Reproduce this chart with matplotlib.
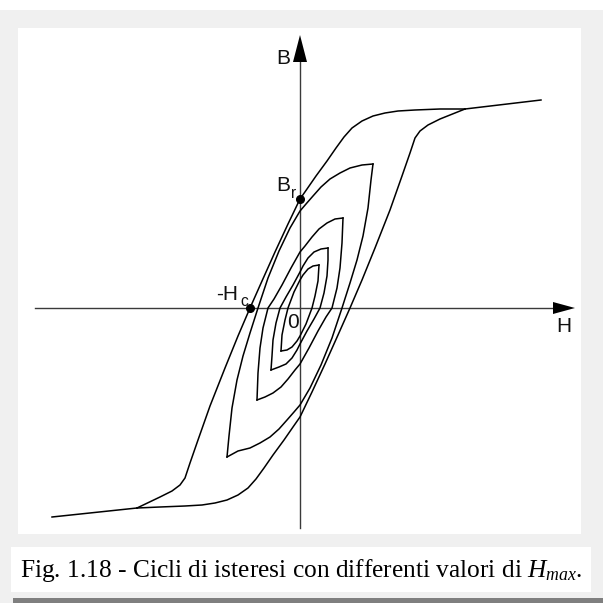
import matplotlib
matplotlib.use("Agg")
import matplotlib.pyplot as plt
from matplotlib.patches import Rectangle, Polygon

# ---- hysteresis loops (H, B), descending branch then ascending branch ----
loop1_down_H = [165, 140, 115, 98, 85, 73, 62, 52, 44, 36, 27, 16, 7, 0, -12, -25, -38, -50,
                -62, -75, -90, -102, -110, -115, -120, -128, -140, -163]
loop1_down_B = [199, 199, 198, 197, 195, 192, 187, 180, 171, 160, 147, 132, 119, 109, 84, 56, 27, 0,
                -28, -60, -98, -132, -155, -170, -177, -183, -189, -200]
loop1_up_H = [-163, -140, -115, -98, -85, -73, -62, -52, -44, -36, -27, -16, -7, 0, 12, 25, 38, 50,
              62, 75, 90, 102, 110, 115, 120, 128, 140, 165]
loop1_up_B = [-200, -199, -198, -197, -195, -192, -187, -180, -171, -160, -147, -132, -119, -109, -84, -56, -27, 0,
              28, 60, 98, 132, 155, 170, 177, 183, 189, 199]

tail_top_H = [165, 241]
tail_top_B = [199, 208]
tail_bot_H = [-163, -248]
tail_bot_B = [-200, -209]

loop2_down_H = [73, 62, 50, 40, 30, 21, 13, 6, 0, -10, -21, -32, -42, -50, -57, -63, -68, -71, -73]
loop2_down_B = [144, 143, 140, 135, 129, 121, 112, 104, 97, 80, 57, 30, 0, -25, -48, -72, -100, -128, -149]
loop2_up_H = [-73, -62, -50, -40, -30, -21, -13, -6, 0, 10, 21, 32, 42, 50, 57, 63, 68, 71, 73]
loop2_up_B = [-149, -143, -140, -135, -129, -121, -112, -104, -97, -80, -57, -30, 0, 25, 48, 72, 100, 128, 144]

loop3_down_H = [43, 35, 27, 19, 12, 5, 0, -9, -18, -26, -32, -37, -40, -42, -43]
loop3_down_B = [90, 89, 85, 79, 71, 62, 56, 40, 23, 9, 0, -20, -40, -65, -92]
loop3_up_H = [-43, -35, -27, -19, -12, -5, 0, 9, 18, 26, 32, 37, 40, 42, 43]
loop3_up_B = [-92, -89, -85, -79, -71, -62, -56, -40, -23, -9, 0, 20, 40, 65, 90]

loop4_down_H = [28, 21, 14, 8, 3, 0, -7, -14, -20, -24, -27, -28, -29]
loop4_down_B = [60, 59, 56, 50, 42, 36, 23, 11, 0, -15, -32, -48, -62]
loop4_up_H = [-29, -21, -14, -8, -3, 0, 7, 14, 20, 24, 27, 28, 28]
loop4_up_B = [-62, -59, -56, -50, -42, -36, -23, -11, 0, 15, 32, 48, 60]

loop5_down_H = [19, 13, 8, 3, 0, -6, -12, -15, -18, -19]
loop5_down_B = [43, 42, 39, 33, 28, 16, 0, -12, -27, -43]
loop5_up_H = [-19, -13, -8, -3, 0, 6, 12, 15, 18, 19]
loop5_up_B = [-43, -42, -39, -33, -28, -16, 0, 12, 27, 43]

# marked points: remanence and coercive field of the largest loop
Br_point = (0, 109)
Hc_point = (-50, 0)

caption = "Fig. 1.18 - Cicli di isteresi con differenti valori di "

# ---- figure ----
W = H_PX = 603
fig = plt.figure(figsize=(W / 100, H_PX / 100), dpi=100)
fig.patch.set_facecolor("white")

def fx(px):
    return px / W

def fy(py):
    return 1 - py / H_PX

# page background, drawing panel, caption box and bottom rule
for rect in [
    Rectangle((0, 0), 1, fy(10), facecolor="#f0f0f0"),
    Rectangle((fx(18), fy(534)), fx(581 - 18), (534 - 28) / H_PX, facecolor="white"),
    Rectangle((fx(11), fy(592)), fx(591 - 11), (592 - 547) / H_PX, facecolor="white"),
    Rectangle((fx(13), 0), 1 - fx(13), 5 / H_PX, facecolor="#7f7f7f"),
]:
    rect.set_transform(fig.transFigure)
    rect.set_edgecolor("none")
    rect.set_zorder(-10)
    fig.patches.append(rect)

ax = fig.add_axes([0, 0, 1, 1])
ax.set_zorder(5)
ax.set_xlim(-300, 303)
ax.set_ylim(-295, 308)
ax.set_axis_off()
ax.patch.set_alpha(0)

axis_col = "#3a3a3a"
# axes of the B-H plane with arrow heads
ax.plot([-265, 255], [0, 0], color=axis_col, lw=1.0, zorder=2)
ax.plot([0, 0], [-220, 250], color=axis_col, lw=1.0, zorder=2)
ax.add_patch(Polygon([[275, 0], [253, 6], [253, -6]], closed=True,
                     facecolor="black", edgecolor="none", zorder=3))
ax.add_patch(Polygon([[0, 273], [-7, 246], [7, 246]], closed=True,
                     facecolor="black", edgecolor="none", zorder=3))

curve_kw = dict(color="black", lw=1.1, zorder=4, solid_joinstyle="round")
branches = [
    (loop1_down_H, loop1_down_B), (loop1_up_H, loop1_up_B),
    (tail_top_H, tail_top_B), (tail_bot_H, tail_bot_B),
    (loop2_down_H, loop2_down_B), (loop2_up_H, loop2_up_B),
    (loop3_down_H, loop3_down_B), (loop3_up_H, loop3_up_B),
    (loop4_down_H, loop4_down_B), (loop4_up_H, loop4_up_B),
    (loop5_down_H, loop5_down_B), (loop5_up_H, loop5_up_B),
]
for hs, bs in branches:
    ax.plot(hs, bs, **curve_kw)

ax.plot(*Br_point, "o", color="black", ms=5.5, zorder=5)
ax.plot(*Hc_point, "o", color="black", ms=5.5, zorder=5)

sans = "Liberation Sans"
fs = 15
ax.text(-17, 249, "B", fontsize=fs, family=sans, ha="center", va="center", color="#111111")
ax.text(264, -19, "H", fontsize=fs, family=sans, ha="center", va="center", color="#111111")
ax.text(-16.5, 122.5, "B", fontsize=fs, family=sans, ha="center", va="center", color="#111111")
ax.text(-6, 114, "r", fontsize=fs * 0.75, family=sans, ha="center", va="center", color="#111111")
ax.text(-73, 13.5, "-H", fontsize=fs, family=sans, ha="center", va="center", color="#111111")
ax.text(-55.5, 6.5, "c", fontsize=fs * 0.75, family=sans, ha="center", va="center", color="#111111")
ax.text(-6.5, -14.5, "0", fontsize=fs, family=sans, ha="center", va="center", color="#111111")

plt.rcParams["mathtext.fontset"] = "custom"
plt.rcParams["mathtext.it"] = "Liberation Serif:italic"
plt.rcParams["mathtext.rm"] = "Liberation Serif"
fig.text(fx(20), fy(577), caption + r"$H_{max}$.", fontsize=18.3,
         family="Liberation Serif", ha="left", va="baseline", color="black")

fig.savefig("out.png", dpi=100, facecolor=fig.get_facecolor())
